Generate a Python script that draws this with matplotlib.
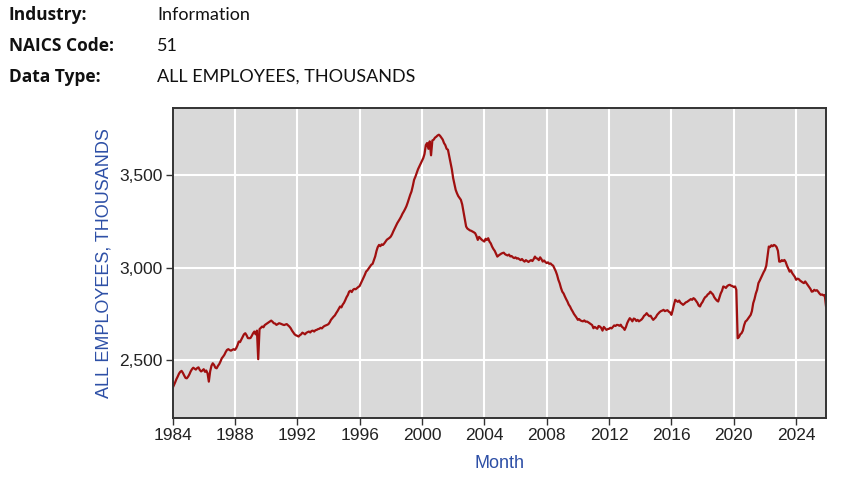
import matplotlib.pyplot as plt
import matplotlib.dates as mdates
import pandas as pd

# ------------------------------------------------------------
# Data: Information sector, all employees (thousands), monthly
# ------------------------------------------------------------
header_keys = ['Industry:', 'NAICS Code:', 'Data Type:']
header_values = ['Information', '51', 'ALL EMPLOYEES, THOUSANDS']

start_month = '1984-01'
employees = [
    2349, 2365, 2380, 2398, 2412, 2428, 2438, 2443, 2432, 2418, 2405, 2403,  # 1984
    2412, 2425, 2440, 2452, 2460, 2455, 2450, 2458, 2462, 2448, 2440, 2445,  # 1985
    2452, 2438, 2445, 2430, 2385, 2440, 2470, 2484, 2475, 2460, 2457, 2470,  # 1986
    2480, 2495, 2511, 2520, 2530, 2545, 2556, 2560, 2555, 2552, 2556, 2560,  # 1987
    2556, 2565, 2580, 2601, 2598, 2612, 2625, 2640, 2646, 2635, 2620, 2619,  # 1988
    2620, 2632, 2645, 2655, 2640, 2660, 2506, 2668, 2675, 2682, 2678, 2690,  # 1989
    2695, 2700, 2705, 2710, 2714, 2708, 2700, 2698, 2691, 2695, 2700, 2698,  # 1990
    2695, 2692, 2690, 2693, 2695, 2688, 2682, 2673, 2660, 2650, 2640, 2635,  # 1991
    2632, 2628, 2635, 2640, 2649, 2645, 2640, 2648, 2652, 2655, 2650, 2658,  # 1992
    2660, 2655, 2662, 2664, 2668, 2670, 2675, 2672, 2680, 2685, 2688, 2691,  # 1993
    2695, 2705, 2718, 2727, 2735, 2742, 2754, 2765, 2778, 2790, 2785, 2800,  # 1994
    2810, 2825, 2840, 2852, 2870, 2875, 2868, 2880, 2885, 2883, 2889, 2895,  # 1995
    2900, 2915, 2930, 2945, 2960, 2978, 2985, 2995, 3005, 3015, 3020, 3040,  # 1996
    3060, 3090, 3110, 3122, 3115, 3125, 3122, 3130, 3140, 3150, 3155, 3160,  # 1997
    3167, 3180, 3195, 3210, 3225, 3239, 3250, 3262, 3275, 3290, 3302, 3315,  # 1998
    3330, 3350, 3370, 3392, 3410, 3440, 3473, 3490, 3510, 3530, 3545, 3560,  # 1999
    3575, 3590, 3612, 3660, 3671, 3640, 3680, 3605, 3685, 3689, 3700, 3705,  # 2000
    3712, 3716, 3710, 3700, 3690, 3671, 3660, 3640, 3635, 3600, 3563, 3530,  # 2001
    3482, 3450, 3419, 3400, 3385, 3375, 3365, 3340, 3300, 3260, 3221, 3210,  # 2002
    3205, 3200, 3198, 3194, 3190, 3185, 3170, 3149, 3165, 3158, 3150, 3145,  # 2003
    3140, 3155, 3149, 3158, 3140, 3130, 3113, 3100, 3090, 3075, 3059, 3065,  # 2004
    3070, 3075, 3078, 3080, 3072, 3068, 3065, 3070, 3060, 3062, 3055, 3051,  # 2005
    3055, 3048, 3050, 3045, 3040, 3046, 3038, 3032, 3040, 3035, 3030, 3036,  # 2006
    3040, 3035, 3045, 3059, 3050, 3048, 3040, 3055, 3045, 3032, 3038, 3030,  # 2007
    3024, 3028, 3020, 3022, 3015, 3010, 2995, 2980, 2960, 2934, 2915, 2890,  # 2008
    2870, 2860, 2845, 2830, 2817, 2800, 2790, 2775, 2763, 2750, 2740, 2730,  # 2009
    2718, 2722, 2715, 2712, 2710, 2715, 2708, 2709, 2705, 2700, 2695, 2690,  # 2010
    2673, 2680, 2675, 2670, 2685, 2682, 2675, 2660, 2680, 2672, 2664, 2668,  # 2011
    2670, 2675, 2672, 2680, 2688, 2685, 2691, 2690, 2686, 2692, 2680, 2675,  # 2012
    2664, 2680, 2700, 2715, 2727, 2720, 2710, 2725, 2722, 2712, 2718, 2710,  # 2013
    2715, 2720, 2728, 2740, 2745, 2754, 2745, 2738, 2740, 2728, 2718, 2725,  # 2014
    2732, 2745, 2752, 2760, 2765, 2768, 2772, 2765, 2768, 2770, 2762, 2758,  # 2015
    2745, 2770, 2800, 2826, 2820, 2815, 2822, 2810, 2805, 2799, 2805, 2812,  # 2016
    2815, 2820, 2825, 2830, 2826, 2835, 2830, 2820, 2810, 2795, 2790, 2805,  # 2017
    2815, 2830, 2840, 2845, 2855, 2860, 2870, 2862, 2855, 2840, 2830, 2822,  # 2018
    2817, 2840, 2860, 2875, 2898, 2895, 2890, 2900, 2905, 2907, 2902, 2900,  # 2019
    2895, 2898, 2880, 2619, 2625, 2640, 2646, 2660, 2690, 2709, 2715, 2725,  # 2020
    2736, 2745, 2765, 2808, 2830, 2860, 2880, 2916, 2930, 2945, 2960, 2975,  # 2021
    2988, 3010, 3060, 3113, 3110, 3120, 3115, 3122, 3118, 3110, 3090, 3032,  # 2022
    3032, 3040, 3035, 3041, 3030, 3010, 2995, 2978, 2985, 2970, 2960, 2950,  # 2023
    2934, 2940, 2938, 2930, 2925, 2920, 2916, 2925, 2915, 2905, 2895, 2885,  # 2024
    2870, 2872, 2880, 2875, 2878, 2870, 2860, 2853, 2855, 2850, 2852, 2792,  # 2025
]
months = pd.date_range(start_month, periods=len(employees), freq='MS')

# ------------------------------------------------------------
# Figure
# ------------------------------------------------------------
fig = plt.figure(figsize=(8.6, 4.96), dpi=100)

# header block
for i, (k, v) in enumerate(zip(header_keys, header_values)):
    y = 1 - (15 + 31 * i) / 496
    fig.text(9 / 860, y, k, fontsize=12.5, fontweight='bold', family='Open Sans',
             va='center', ha='left', color='#111111')
    fig.text(157 / 860, y, v, fontsize=13, family='Lato',
             va='center', ha='left', color='#111111')

ax = fig.add_axes([172.5 / 860, 1 - 418 / 496, (826 - 172.5) / 860, (418 - 108) / 496])
ax.set_facecolor('#d9d9d9')
ax.plot(months, employees, color='#a01010', linewidth=1.6)

ax.set_xlim(months[0], months[-1])
ax.set_ylim(2189, 3860)
ax.xaxis.set_major_locator(mdates.YearLocator(4))
ax.xaxis.set_major_formatter(mdates.DateFormatter('%Y'))
ax.set_yticks([2500, 3000, 3500])
ax.set_yticklabels(['2,500', '3,000', '3,500'])

ax.grid(True, color='white', linewidth=1.5)
ax.set_axisbelow(True)
for s in ax.spines.values():
    s.set_color('#333333')
    s.set_linewidth(1.4)

ax.tick_params(axis='both', direction='out', length=5, width=1, color='#333333',
               labelsize=12.5, labelcolor='#222222', pad=2)
for lab in ax.get_xticklabels() + ax.get_yticklabels():
    lab.set_family('Liberation Sans')

ax.set_ylabel('ALL EMPLOYEES, THOUSANDS', fontsize=13, color='#2d4fa6',
              family='Liberation Sans', labelpad=5)
ax.set_xlabel('Month', fontsize=13, color='#2d4fa6', family='Liberation Sans',
              labelpad=9)

plt.savefig('out.png', dpi=100)
